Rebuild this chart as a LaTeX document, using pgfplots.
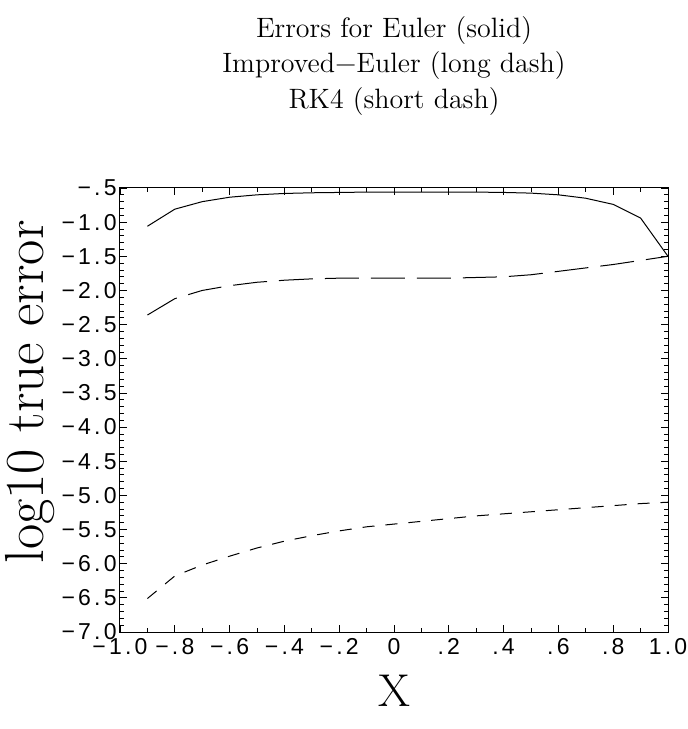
\documentclass[border=0pt]{standalone}
\usepackage{fontspec}
\usepackage{graphicx}
\usepackage{pgfplots}
\usepackage{pgfplotstable}
\pgfplotsset{compat=1.18}
\newfontfamily\tickfont{Liberation Sans}[LetterSpace=14]

\pgfplotstableread{
x y
-0.9 -1.06
-0.8 -0.81
-0.7 -0.70
-0.6 -0.635
-0.5 -0.60
-0.4 -0.58
-0.3 -0.57
-0.2 -0.565
-0.1 -0.56
0.0 -0.56
0.1 -0.56
0.2 -0.56
0.3 -0.56
0.4 -0.565
0.5 -0.575
0.6 -0.60
0.7 -0.65
0.8 -0.74
0.9 -0.94
1.0 -1.50
}\euler

\pgfplotstableread{
x y
-0.9 -2.36
-0.8 -2.12
-0.7 -2.00
-0.6 -1.93
-0.5 -1.88
-0.4 -1.85
-0.3 -1.83
-0.2 -1.82
-0.1 -1.82
0.0 -1.82
0.1 -1.82
0.2 -1.82
0.3 -1.81
0.4 -1.80
0.5 -1.77
0.6 -1.72
0.7 -1.67
0.8 -1.62
0.9 -1.56
1.0 -1.50
}\impeuler

\pgfplotstableread{
x y
-0.9 -6.51
-0.8 -6.18
-0.7 -6.02
-0.6 -5.89
-0.5 -5.77
-0.4 -5.67
-0.3 -5.59
-0.2 -5.52
-0.1 -5.46
0.0 -5.42
0.1 -5.38
0.2 -5.34
0.3 -5.30
0.4 -5.27
0.5 -5.24
0.6 -5.21
0.7 -5.18
0.8 -5.15
0.9 -5.12
1.0 -5.10
}\rkfour

\begin{document}
\begin{tikzpicture}
\path[use as bounding box] (-60pt,-48.5pt) rectangle (284pt,316pt);
\begin{axis}[
  scale only axis,
  width=274pt, height=222pt,
  xmin=-1, xmax=1, ymin=-7, ymax=-0.5,
  xtick={-1,-0.8,-0.6,-0.4,-0.2,0,0.2,0.4,0.6,0.8,1},
  xticklabels={−1.0,−.8,−.6,−.4,−.2,0,.2,.4,.6,.8,1.0},
  ytick={-7,-6.5,-6,-5.5,-5,-4.5,-4,-3.5,-3,-2.5,-2,-1.5,-1,-0.5},
  yticklabels={−7.0,−6.5,−6.0,−5.5,−5.0,−4.5,−4.0,−3.5,−3.0,−2.5,−2.0,−1.5,−1.0,−.5},
  minor x tick num=1,
  minor y tick num=4,
  tick align=inside,
  major tick length=3.5pt,
  minor tick length=2pt,
  tick style={black, line width=0.4pt},
  axis line style={line width=0.5pt},
  ticklabel style={font=\tickfont\fontsize{11.5}{11.5}\selectfont},
  yticklabel style={anchor=east, inner sep=0pt, xshift=-1.5pt},
  xticklabel style={anchor=north, inner sep=0pt, yshift=-3pt},
]
\addplot[black, line width=0.5pt] table[x=x,y=y] {\euler};
\addplot[black, line width=0.5pt, dash pattern=on 17pt off 6pt] table[x=x,y=y] {\impeuler};
\addplot[black, line width=0.5pt, dash pattern=on 6pt off 5.5pt] table[x=x,y=y] {\rkfour};
\end{axis}
\node[align=center, font=\fontsize{14}{17.75}\selectfont] at (137pt,283pt)
  {Errors for Euler (solid)\\Improved−Euler (long dash)\\RK4 (short dash)};
\node[rotate=90, font=\fontsize{27.5}{27.5}\selectfont] at (-45pt,120pt) {log10 true error};
\node[font=\fontsize{23}{23}\selectfont] at (137pt,-29.5pt) {X};
\end{tikzpicture}
\end{document}
